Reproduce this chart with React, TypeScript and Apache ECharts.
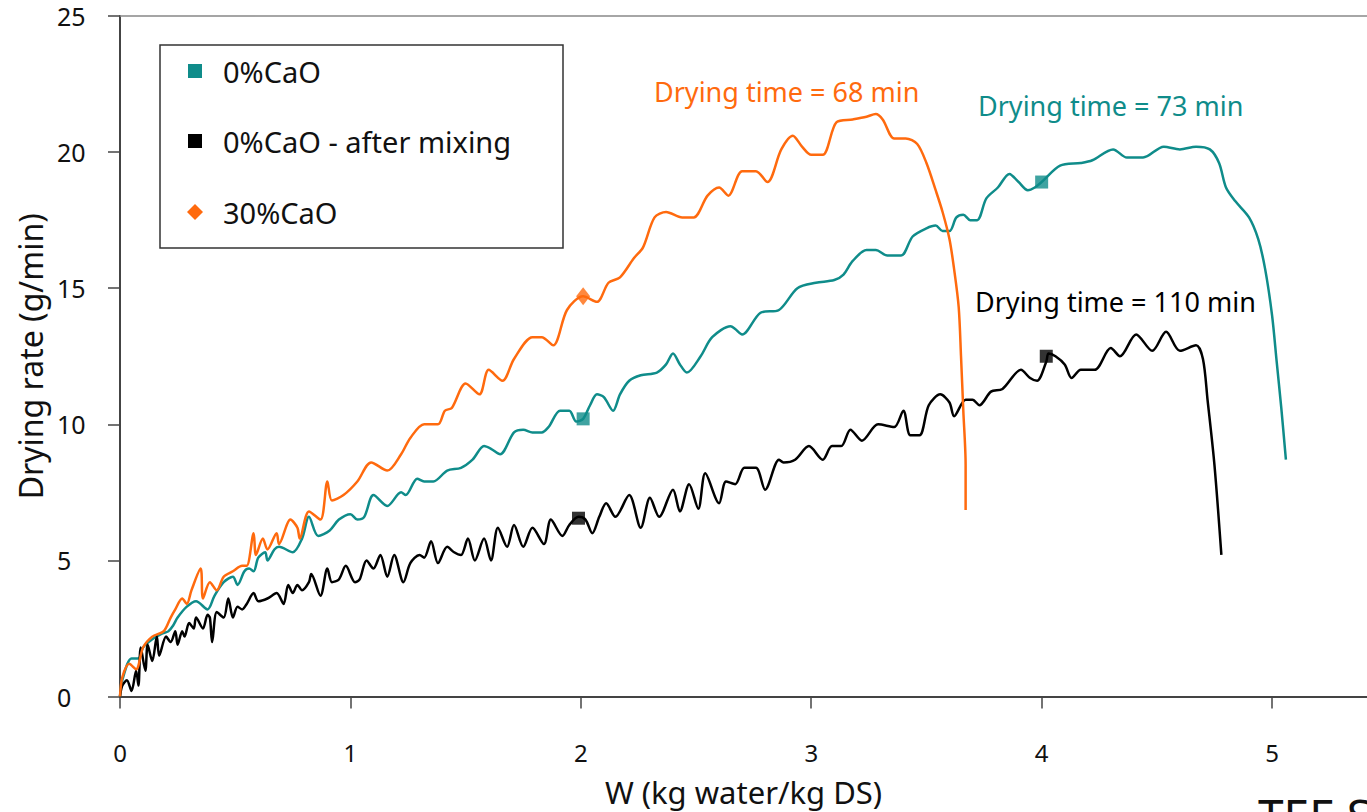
import React, { useEffect, useRef } from "react";
import * as echarts from "echarts";

const FONT = "'Noto Sans', 'Open Sans', sans-serif";
const TEAL = "#0F8C8A";
const ORANGE = "#FF6A0E";
const BLACK = "#000000";

const xTicks = [0, 1, 2, 3, 4, 5];
const yTicks = [0, 5, 10, 15, 20, 25];

const seriesNames = ["0%CaO", "0%CaO - after mixing", "30%CaO"];

// 0%CaO  [W, drying rate]
const curveCaO0: [number, number][] = [
  [0, 0], [0.01, 0.6], [0.05, 1.4], [0.08, 1.4], [0.1, 1.8], [0.14, 2.1], [0.18, 2.3], [0.21, 2.4], [0.23, 2.6],
  [0.25, 2.9], [0.29, 3.3], [0.33, 3.5], [0.38, 3.2], [0.41, 3.7], [0.45, 4.2], [0.49, 4.4], [0.51, 4.1], [0.54, 4.6],
  [0.56, 4.7], [0.58, 4.6], [0.6, 5.1], [0.63, 5.3], [0.64, 5.0], [0.67, 5.4], [0.69, 5.5], [0.75, 5.3], [0.79, 5.8],
  [0.82, 6.6], [0.86, 5.9], [0.91, 6.1], [0.95, 6.5], [1.0, 6.7], [1.03, 6.5], [1.06, 6.6], [1.1, 7.4], [1.16, 7.0],
  [1.22, 7.5], [1.24, 7.4], [1.29, 8.0], [1.32, 7.9], [1.36, 7.9], [1.42, 8.3], [1.48, 8.4], [1.53, 8.7], [1.58, 9.2],
  [1.61, 9.1], [1.65, 8.9], [1.71, 9.7], [1.75, 9.8], [1.79, 9.7], [1.83, 9.7], [1.86, 9.9], [1.91, 10.5], [1.95, 10.5],
  [1.98, 10.1], [2.01, 10.2], [2.04, 10.7], [2.07, 11.1], [2.1, 11.0], [2.14, 10.5], [2.17, 11.1], [2.21, 11.6],
  [2.26, 11.8], [2.33, 11.9], [2.37, 12.2], [2.4, 12.6], [2.43, 12.2], [2.46, 11.9], [2.52, 12.5], [2.57, 13.2],
  [2.65, 13.6], [2.67, 13.5], [2.7, 13.3], [2.78, 14.1], [2.86, 14.2], [2.94, 15.0], [3.02, 15.2], [3.1, 15.3],
  [3.14, 15.5], [3.18, 16.0], [3.24, 16.4], [3.28, 16.4], [3.33, 16.2], [3.39, 16.2], [3.44, 16.9], [3.5, 17.2],
  [3.54, 17.3], [3.57, 17.1], [3.6, 17.1], [3.63, 17.6], [3.66, 17.7], [3.69, 17.5], [3.72, 17.5], [3.76, 18.3],
  [3.81, 18.7], [3.86, 19.2], [3.9, 18.9], [3.94, 18.6], [3.97, 18.7], [4.0, 18.9], [4.08, 19.5], [4.17, 19.6],
  [4.22, 19.7], [4.31, 20.1], [4.37, 19.8], [4.44, 19.8], [4.53, 20.2], [4.6, 20.1], [4.67, 20.2], [4.73, 20.1],
  [4.77, 19.6], [4.8, 18.7], [4.84, 18.2], [4.9, 17.6], [4.94, 16.8], [4.97, 15.7], [5.0, 14.0], [5.02, 12.3],
  [5.04, 10.6], [5.06, 8.7],
];

// 0%CaO - after mixing
const curveMixed: [number, number][] = [
  [0, 0], [0.01, 0.4], [0.03, 0.6], [0.05, 0.2], [0.07, 0.95], [0.08, 0.4], [0.09, 1.8], [0.11, 0.95], [0.12, 1.9],
  [0.14, 1.3], [0.16, 2.2], [0.17, 1.5], [0.2, 2.2], [0.22, 2.0], [0.24, 2.4], [0.25, 1.9], [0.27, 2.4], [0.28, 2.2],
  [0.3, 2.7], [0.32, 2.5], [0.33, 2.9], [0.36, 2.5], [0.38, 3.0], [0.39, 2.9], [0.4, 2.0], [0.42, 3.1], [0.45, 2.9],
  [0.47, 3.6], [0.49, 2.9], [0.51, 3.3], [0.53, 3.2], [0.55, 3.4], [0.58, 3.8], [0.6, 3.5], [0.64, 3.6], [0.68, 3.8],
  [0.71, 3.4], [0.73, 4.1], [0.75, 3.8], [0.77, 4.1], [0.79, 3.9], [0.82, 4.2], [0.83, 4.5], [0.87, 3.7], [0.9, 4.7],
  [0.92, 4.2], [0.95, 4.3], [0.98, 4.8], [1.02, 4.2], [1.04, 4.3], [1.07, 5.0], [1.1, 4.7], [1.13, 5.2], [1.16, 4.4],
  [1.19, 5.2], [1.23, 4.2], [1.26, 4.9], [1.3, 5.2], [1.32, 5.1], [1.35, 5.7], [1.38, 4.9], [1.42, 5.5], [1.45, 5.3],
  [1.48, 5.2], [1.51, 5.8], [1.54, 5.0], [1.58, 5.8], [1.61, 5.0], [1.64, 6.2], [1.68, 5.5], [1.71, 6.3], [1.75, 5.5],
  [1.79, 6.2], [1.84, 5.6], [1.87, 6.5], [1.92, 5.9], [1.95, 6.3], [1.99, 6.6], [2.02, 6.5], [2.05, 6.0], [2.08, 6.6],
  [2.11, 7.1], [2.15, 6.6], [2.21, 7.4], [2.26, 6.2], [2.3, 7.3], [2.34, 6.6], [2.4, 7.6], [2.43, 6.8], [2.47, 7.8],
  [2.51, 6.9], [2.54, 8.2], [2.6, 7.1], [2.63, 7.9], [2.67, 7.8], [2.71, 8.4], [2.76, 8.4], [2.8, 7.6], [2.86, 8.7],
  [2.88, 8.6], [2.93, 8.7], [2.99, 9.2], [3.05, 8.7], [3.09, 9.2], [3.13, 9.2], [3.17, 9.8], [3.22, 9.4], [3.29, 10.0],
  [3.36, 9.9], [3.4, 10.5], [3.43, 9.6], [3.47, 9.6], [3.51, 10.7], [3.56, 11.1], [3.6, 10.8], [3.62, 10.3],
  [3.67, 10.9], [3.7, 10.9], [3.73, 10.7], [3.78, 11.2], [3.83, 11.3], [3.91, 12.0], [3.95, 11.7], [3.98, 11.6],
  [4.02, 12.3], [4.03, 12.6], [4.06, 12.5], [4.1, 12.2], [4.13, 11.7], [4.17, 12.0], [4.23, 12.0], [4.3, 12.8],
  [4.34, 12.5], [4.41, 13.3], [4.48, 12.7], [4.54, 13.4], [4.6, 12.7], [4.67, 12.9], [4.7, 12.4], [4.72, 10.9],
  [4.75, 8.5], [4.78, 5.2],
];

// 30%CaO
const curveCaO30: [number, number][] = [
  [0, 0], [0.01, 0.7], [0.04, 1.2], [0.07, 1.0], [0.1, 1.8], [0.14, 2.2], [0.19, 2.4], [0.22, 2.9], [0.24, 3.2],
  [0.27, 3.6], [0.29, 3.4], [0.31, 3.9], [0.35, 4.7], [0.36, 3.6], [0.39, 4.2], [0.42, 3.9], [0.45, 4.4], [0.49, 4.6],
  [0.53, 4.8], [0.55, 4.8], [0.58, 6.0], [0.59, 5.2], [0.62, 5.8], [0.64, 5.4], [0.68, 6.0], [0.69, 5.6], [0.74, 6.5],
  [0.77, 6.2], [0.78, 5.8], [0.82, 6.8], [0.87, 6.5], [0.9, 7.9], [0.92, 7.2], [0.97, 7.4], [1.03, 7.9], [1.09, 8.6],
  [1.16, 8.3], [1.22, 8.9], [1.26, 9.5], [1.32, 10.0], [1.38, 10.0], [1.41, 10.5], [1.44, 10.6], [1.5, 11.5],
  [1.56, 11.1], [1.6, 12.0], [1.66, 11.6], [1.71, 12.4], [1.79, 13.2], [1.83, 13.2], [1.88, 12.9], [1.94, 14.2],
  [2.01, 14.7], [2.07, 14.5], [2.12, 15.2], [2.17, 15.4], [2.23, 16.1], [2.27, 16.5], [2.32, 17.6], [2.37, 17.8],
  [2.44, 17.6], [2.49, 17.6], [2.55, 18.4], [2.6, 18.7], [2.64, 18.4], [2.7, 19.3], [2.76, 19.3], [2.81, 18.9],
  [2.87, 20.1], [2.92, 20.6], [2.96, 20.2], [3.0, 19.9], [3.05, 19.9], [3.11, 21.1], [3.18, 21.2], [3.24, 21.3],
  [3.28, 21.4], [3.31, 21.2], [3.36, 20.5], [3.41, 20.5], [3.46, 20.3], [3.5, 19.6], [3.54, 18.6], [3.57, 17.8],
  [3.6, 16.8], [3.62, 15.7], [3.64, 14.3], [3.65, 12.5], [3.66, 10.5], [3.67, 8.5], [3.67, 6.85],
];

const markersCaO0: [number, number][] = [[2.01, 10.2], [4.0, 18.9]];
const markersMixed: [number, number][] = [[1.99, 6.55], [4.02, 12.5]];
const markersCaO30: [number, number][] = [[2.01, 14.7]];

const annotations = [
  { text: "Drying time = 68 min", color: ORANGE, x: 654, y: 91 },
  { text: "Drying time = 73 min", color: TEAL, x: 978, y: 105 },
  { text: "Drying time = 110 min", color: BLACK, x: 975, y: 301 },
];

const X_MAX = 5.412;

function buildOption(): any {
  const legendItems = [
    { name: seriesNames[0], color: TEAL, shape: "square", y: 71 },
    { name: seriesNames[1], color: BLACK, shape: "square", y: 141 },
    { name: seriesNames[2], color: ORANGE, shape: "diamond", y: 212 },
  ];
  const graphics: any[] = [
    {
      type: "rect",
      shape: { x: 160, y: 45, width: 403, height: 203 },
      style: { fill: "#fff", stroke: "#333", lineWidth: 1.5 },
      z: 10,
    },
  ];
  legendItems.forEach((it) => {
    if (it.shape === "square") {
      graphics.push({
        type: "rect",
        shape: { x: 188, y: it.y - 7, width: 14, height: 14 },
        style: { fill: it.color },
        z: 11,
      });
    } else {
      graphics.push({
        type: "polygon",
        shape: { points: [[195, it.y - 8], [203, it.y], [195, it.y + 8], [187, it.y]] },
        style: { fill: it.color },
        z: 11,
      });
    }
    graphics.push({
      type: "text",
      x: 223,
      y: it.y,
      style: {
        text: it.name,
        fill: "#111",
        font: `29px ${FONT}`,
        textAlign: "left",
        textVerticalAlign: "middle",
        align: "left",
        verticalAlign: "middle",
      },
      z: 11,
    });
  });
  annotations.forEach((a) => {
    graphics.push({
      type: "text",
      x: a.x,
      y: a.y,
      style: {
        text: a.text,
        fill: a.color,
        font: `27px ${FONT}`,
        textAlign: "left",
        textVerticalAlign: "middle",
        align: "left",
        verticalAlign: "middle",
      },
      z: 12,
    });
  });
  graphics.push({
    type: "text",
    x: 1258,
    y: 792,
    style: {
      text: "TEE S",
      fill: "#111",
      font: `46px ${FONT}`,
      textAlign: "left",
      textVerticalAlign: "top",
      align: "left",
      verticalAlign: "top",
    },
    z: 12,
  });

  const lineSeries = (name: string, data: [number, number][], color: string, z: number) => ({
    name,
    type: "line",
    data,
    symbol: "none",
    smooth: 0.3,
    lineStyle: { color, width: 2.5 },
    itemStyle: { color },
    z,
  });
  const markerSeries = (name: string, data: [number, number][], color: string, symbol: string, size: any) => ({
    name,
    type: "scatter",
    data,
    symbol,
    symbolSize: size,
    itemStyle: { color },
    z: 5,
  });

  return {
    animation: false,
    backgroundColor: "#ffffff",
    textStyle: { fontFamily: FONT },
    grid: { left: 120, top: 16, right: 0, bottom: 113, containLabel: false },
    xAxis: [
      {
        type: "value",
        min: 0,
        max: X_MAX,
        interval: 1,
        axisLine: { show: true, lineStyle: { color: "#444", width: 2 } },
        axisTick: { show: true, inside: false, length: 12, lineStyle: { color: "#444", width: 1.5 } },
        axisLabel: {
          margin: 45,
          fontSize: 24,
          lineHeight: 22,
          color: "#111",
          fontFamily: FONT,
          showMaxLabel: false,
          formatter: (v: number) => (xTicks.includes(v) ? String(v) : ""),
        },
        splitLine: { show: false },
        name: "W (kg water/kg DS)",
        nameLocation: "middle",
        nameGap: 81,
        nameTextStyle: { fontSize: 31, lineHeight: 28, color: "#111", fontFamily: FONT },
      },
      {
        type: "value",
        position: "top",
        min: 0,
        max: X_MAX,
        axisLine: { show: true, lineStyle: { color: "#888", width: 1.5 } },
        axisTick: { show: false },
        axisLabel: { show: false },
        splitLine: { show: false },
      },
    ],
    yAxis: {
      type: "value",
      min: 0,
      max: 25,
      interval: 5,
      axisLine: { show: true, lineStyle: { color: "#444", width: 2 } },
      axisTick: { show: true, inside: false, length: 12, lineStyle: { color: "#444", width: 1.5 } },
      axisLabel: {
        align: "left",
        margin: 63,
        fontSize: 25,
        color: "#111",
        fontFamily: FONT,
        formatter: (v: number) => (yTicks.includes(v) ? String(v) : ""),
      },
      splitLine: { show: false },
      name: "Drying rate (g/min)",
      nameLocation: "middle",
      nameGap: 68,
      nameRotate: 90,
      nameTextStyle: { fontSize: 32, lineHeight: 32, color: "#111", fontFamily: FONT },
    },
    graphic: graphics,
    series: [
      lineSeries(seriesNames[0], curveCaO0, TEAL, 2),
      lineSeries(seriesNames[1], curveMixed, BLACK, 3),
      lineSeries(seriesNames[2], curveCaO30, ORANGE, 4),
      markerSeries(seriesNames[0], markersCaO0, TEAL, "rect", 13),
      markerSeries(seriesNames[1], markersMixed, BLACK, "rect", 13),
      markerSeries(seriesNames[2], markersCaO30, ORANGE, "diamond", [14, 18]),
    ],
  };
}

export default function App() {
  const ref = useRef<HTMLDivElement>(null);
  useEffect(() => {
    if (!ref.current) return;
    const chart = echarts.init(ref.current, null, { renderer: "svg" });
    chart.setOption(buildOption());
    return () => chart.dispose();
  }, []);
  return (
    <div
      ref={ref}
      style={{ position: "fixed", left: 0, top: 0, width: 1367, height: 812, background: "#fff" }}
    />
  );
}
